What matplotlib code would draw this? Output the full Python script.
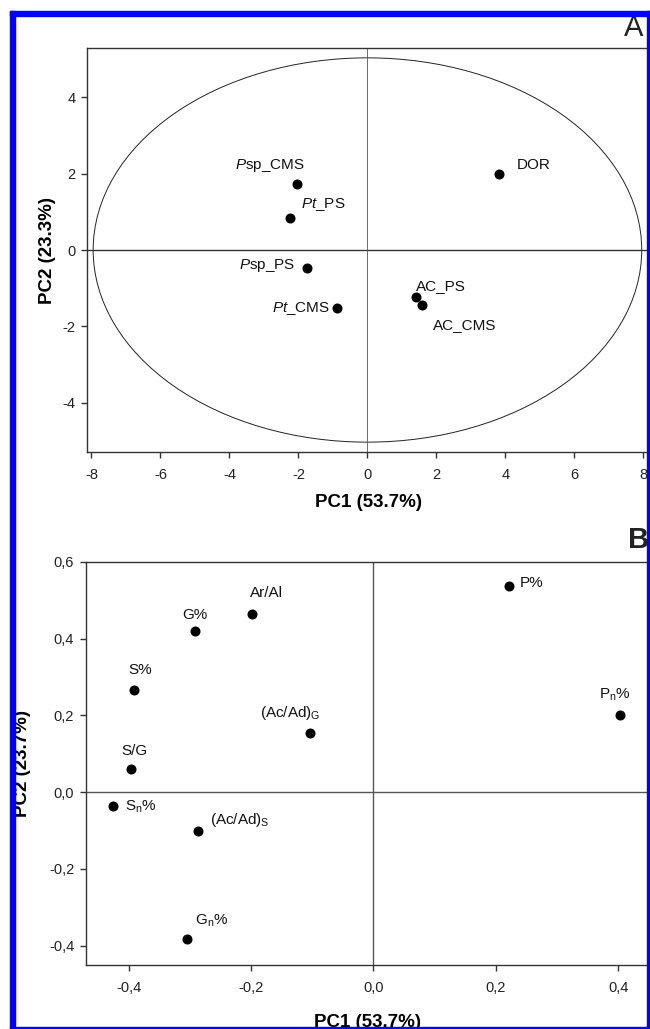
import matplotlib
matplotlib.use("Agg")
import matplotlib.pyplot as plt
from matplotlib.patches import Ellipse, Rectangle

plt.rcParams['font.family'] = ['Liberation Sans', 'DejaVu Sans']
plt.rcParams['mathtext.fontset'] = 'custom'
plt.rcParams['mathtext.rm'] = 'Liberation Sans'
plt.rcParams['mathtext.it'] = 'Liberation Sans:italic'
plt.rcParams['axes.unicode_minus'] = False

# ---- panel A: scores ----
score_names = [r"$\it{P}$sp_CMS", r"$\it{Pt}$_PS", r"$\it{P}$sp_PS", r"$\it{Pt}$_CMS",
               "AC_PS", "AC_CMS", "DOR"]
score_pc1 = [-2.04, -2.25, -1.76, -0.89, 1.41, 1.57, 3.82]
score_pc2 = [1.72, 0.83, -0.46, -1.51, -1.23, -1.45, 2.00]
ell_a, ell_b = 7.95, 5.03  # confidence ellipse half axes

# ---- panel B: loadings ----
load_names = ["P%", "Ar/Al", "G%", "S%", r"(Ac/Ad)$_{\rm G}$", r"P$_{\rm n}$%",
              "S/G", r"S$_{\rm n}$%", r"(Ac/Ad)$_{\rm S}$", r"G$_{\rm n}$%"]
load_pc1 = [0.222, -0.199, -0.292, -0.391, -0.103, 0.403, -0.396, -0.425, -0.286, -0.304]
load_pc2 = [0.537, 0.465, 0.420, 0.267, 0.155, 0.200, 0.060, -0.036, -0.101, -0.383]

W, H = 650, 1029
fig = plt.figure(figsize=(W / 100, H / 100), dpi=100)


def px_axes(l, t, r, b):
    return fig.add_axes([l / W, 1 - b / H, (r - l) / W, (b - t) / H])


def style(ax):
    for s in ax.spines.values():
        s.set_color('#333333')
        s.set_linewidth(1.0)
    ax.tick_params(direction='out', length=4.5, width=1, color='#333333',
                   labelsize=10.5, labelcolor='#222222')
    ax.tick_params(axis='x', pad=7)
    ax.tick_params(axis='y', pad=4)


# panel A
axA = px_axes(87.3, 48.3, 650, 451.7)
axA.set_xlim(-8.12, 8.19)
axA.set_ylim(-5.28, 5.28)
axA.set_xticks(range(-8, 9, 2))
axA.set_yticks([-4, -2, 0, 2, 4])
axA.axhline(0, color='#333333', lw=1.0)
axA.axvline(0, color='#555555', lw=0.6)
axA.add_patch(Ellipse((0, 0), 2 * ell_a, 2 * ell_b, fill=False, ec='#222222', lw=0.7))
axA.plot(score_pc1, score_pc2, 'o', color='black', ms=6.2)
offA = [(-27, 19, 'center'), (33, 14, 'center'), (-11, 2, 'right'), (-7, -1, 'right'),
        (0, 11, 'left'), (11, -20, 'left'), (18, 9, 'left')]
for name, x, y, (dx, dy, ha) in zip(score_names, score_pc1, score_pc2, offA):
    axA.annotate(name, (x, y), xytext=(dx, dy), textcoords='offset pixels',
                 ha=ha, va='center', fontsize=11, color='#111111')
axA.set_xlabel("PC1 (53.7%)", fontsize=13.5, fontweight='bold', labelpad=9)
axA.set_ylabel("PC2 (23.3%)", fontsize=13.5, fontweight='bold', labelpad=5)
style(axA)

# panel B
axB = px_axes(86, 561.7, 650, 965)
axB.set_xlim(-0.4696, 0.452)
axB.set_ylim(-0.45, 0.6)
axB.set_xticks([-0.4, -0.2, 0.0, 0.2, 0.4])
axB.set_yticks([-0.4, -0.2, 0.0, 0.2, 0.4, 0.6])
axB.set_xticklabels(["-0,4", "-0,2", "0,0", "0,2", "0,4"])
axB.set_yticklabels(["-0,4", "-0,2", "0,0", "0,2", "0,4", "0,6"])
axB.axhline(0, color='#555555', lw=1.0)
axB.axvline(0, color='#555555', lw=1.0)
axB.plot(load_pc1, load_pc2, 'o', color='black', ms=6.2)
offB = [(11, 3, 'left'), (15, 21, 'center'), (0, 16, 'center'), (6, 20, 'center'),
        (-20, 20, 'center'), (-5, 21, 'center'), (3, 18, 'center'), (12, -1, 'left'),
        (12, 11, 'left'), (24, 18, 'center')]
for name, x, y, (dx, dy, ha) in zip(load_names, load_pc1, load_pc2, offB):
    axB.annotate(name, (x, y), xytext=(dx, dy), textcoords='offset pixels',
                 ha=ha, va='center', fontsize=11, color='#111111')
axB.set_xlabel("PC1 (53.7%)", fontsize=13.5, fontweight='bold', labelpad=14)
axB.set_ylabel("PC2 (23.7%)", fontsize=13.5, fontweight='bold', labelpad=13)
style(axB)

fig.text(624 / W, 1 - 27.5 / H, "A", fontsize=21, ha='left', va='center', color='#222222')
fig.text(628 / W, 1 - 540 / H, "B", fontsize=21, fontweight='bold', ha='left', va='center',
         color='#222222')

# blue frame
blue = '#0000ff'
for l, t, r, b in [(10, 11, 650, 16), (10, 11, 15, 1029), (647, 11, 650, 1029),
                   (10, 1027, 650, 1029)]:
    fig.add_artist(Rectangle((l / W, 1 - b / H), (r - l) / W, (b - t) / H,
                             transform=fig.transFigure, color=blue, zorder=100))

fig.savefig("out.png", dpi=100)
